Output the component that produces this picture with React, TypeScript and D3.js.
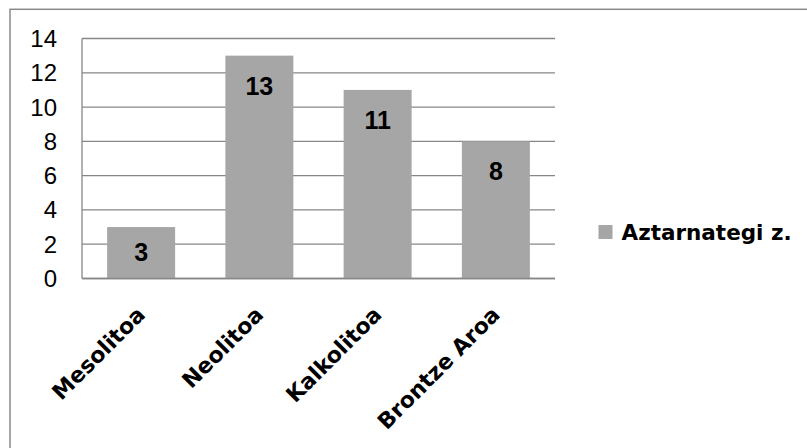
import React from "react";
import * as d3 from "d3";

const categories = ["Mesolitoa", "Neolitoa", "Kalkolitoa", "Brontze Aroa"];
const values = [3, 13, 11, 8];
const yTicks = [0, 2, 4, 6, 8, 10, 12, 14];
const seriesName = "Aztarnategi z.";

const W = 807;
const H = 448;
const plot = { left: 82, right: 555, top: 38.5, bottom: 278.5 };
const gridColor = "#878787";
const barColor = "#a6a6a6";

export default function App() {
  const y = d3.scaleLinear().domain([0, 14]).range([plot.bottom, plot.top]);
  const x = d3
    .scaleBand<string>()
    .domain(categories)
    .range([plot.left, plot.right])
    .paddingInner(0.425)
    .paddingOuter(0.2125);

  return (
    <svg
      width={W}
      height={H}
      style={{ position: "absolute", left: 0, top: 0, background: "#fff" }}
    >
      <rect x={0} y={0} width={W} height={H} fill="#fff" />
      <rect
        x={10}
        y={9.3}
        width={830}
        height={470}
        fill="none"
        stroke="#8a8a8a"
        strokeWidth={1.5}
      />
      {/* gridlines */}
      {yTicks.map((t) => (
        <line
          key={"g" + t}
          x1={plot.left}
          x2={plot.right}
          y1={y(t)}
          y2={y(t)}
          stroke={gridColor}
          strokeWidth={1.3}
        />
      ))}
      {/* left axis */}
      <line
        x1={plot.left}
        x2={plot.left}
        y1={plot.top}
        y2={plot.bottom}
        stroke={gridColor}
        strokeWidth={1.3}
      />
      {/* y tick labels */}
      {yTicks.map((t) => (
        <text
          key={"t" + t}
          x={57}
          y={y(t)}
          textAnchor="end"
          dominantBaseline="central"
          fontFamily="'Liberation Sans', Arial, sans-serif"
          fontSize={24}
          fill="#000"
        >
          {t}
        </text>
      ))}
      {/* bars */}
      {categories.map((c, i) => (
        <rect
          key={"b" + c}
          x={x(c)!}
          y={y(values[i])}
          width={x.bandwidth()}
          height={y(0) - y(values[i])}
          fill={barColor}
        />
      ))}
      {/* bottom axis */}
      <line
        x1={plot.left}
        x2={plot.right}
        y1={plot.bottom}
        y2={plot.bottom}
        stroke={gridColor}
        strokeWidth={1.5}
      />
      {/* data labels */}
      {categories.map((c, i) => {
        const top = y(values[i]);
        const cy = Math.min(top + 30, (top + y(0)) / 2 - 1);
        return (
          <text
            key={"l" + c}
            x={x(c)! + x.bandwidth() / 2}
            y={cy}
            textAnchor="middle"
            dominantBaseline="central"
            fontFamily="'Liberation Sans', Arial, sans-serif"
            fontWeight="bold"
            fontSize={25}
            fill="#000"
          >
            {values[i]}
          </text>
        );
      })}
      {/* x labels */}
      {categories.map((c) => {
        const ax = x(c)! + x.bandwidth() / 2 + 5.5;
        const ay = 316;
        return (
          <text
            key={"x" + c}
            x={ax}
            y={ay}
            transform={`rotate(-45 ${ax} ${ay})`}
            textAnchor="end"
            fontFamily="'DejaVu Sans', sans-serif"
            fontWeight="bold"
            fontSize={22}
            fill="#000"
          >
            {c}
          </text>
        );
      })}
      {/* legend */}
      <rect x={598.5} y={225} width={14} height={14} fill={barColor} />
      <text
        x={621.5}
        y={240}
        fontFamily="'DejaVu Sans', sans-serif"
        fontWeight="bold"
        fontSize={21.5}
        fill="#000"
      >
        {seriesName}
      </text>
    </svg>
  );
}
